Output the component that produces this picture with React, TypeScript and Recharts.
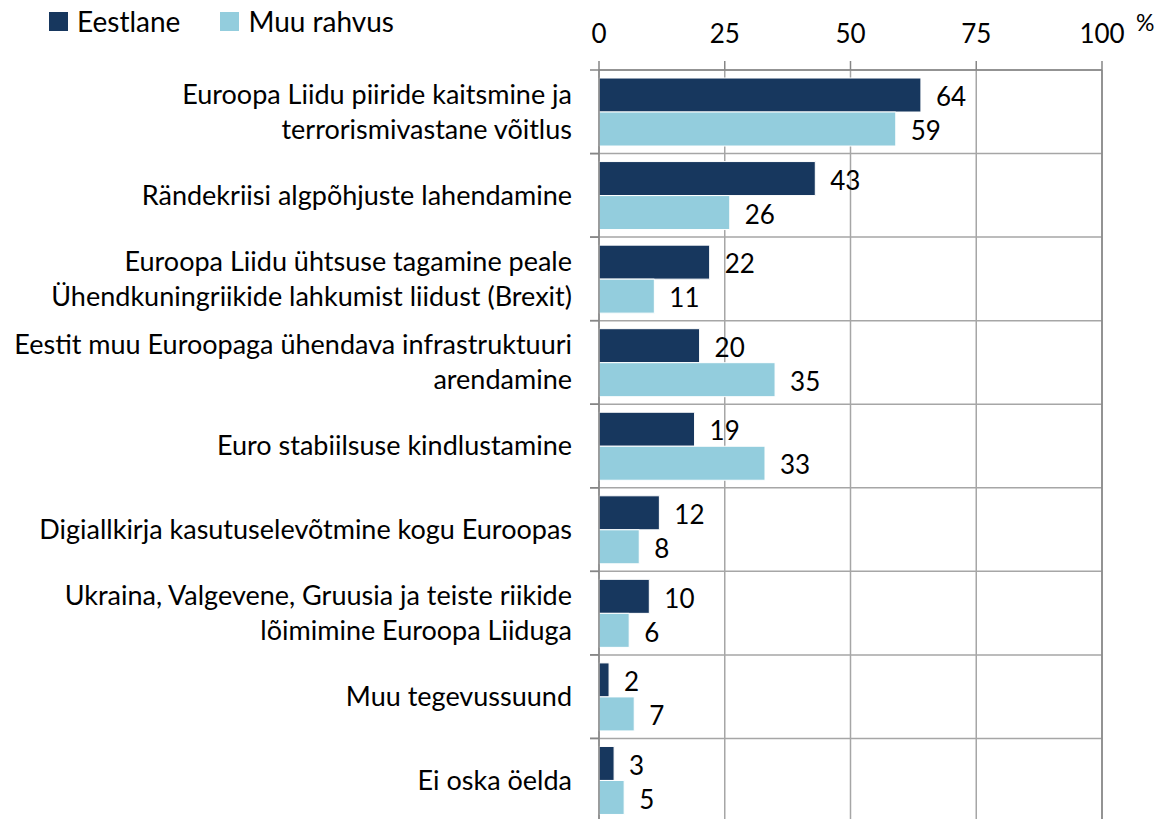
import React from "react";
import {
  BarChart,
  Bar,
  XAxis,
  YAxis,
  CartesianGrid,
  Legend,
  LabelList,
  Label,
  ReferenceLine
} from "recharts";

const categories = [
  "Euroopa Liidu piiride kaitsmine ja\nterrorismivastane võitlus",
  "Rändekriisi algpõhjuste lahendamine",
  "Euroopa Liidu ühtsuse tagamine peale\nÜhendkuningriikide lahkumist liidust (Brexit)",
  "Eestit muu Euroopaga ühendava infrastruktuuri\narendamine",
  "Euro stabiilsuse kindlustamine",
  "Digiallkirja kasutuselevõtmine kogu Euroopas",
  "Ukraina, Valgevene, Gruusia ja teiste riikide\nlõimimine Euroopa Liiduga",
  "Muu tegevussuund",
  "Ei oska öelda"
];

const eestlane = [64, 43, 22, 20, 19, 12, 10, 2, 3];
const muuRahvus = [59, 26, 11, 35, 33, 8, 6, 7, 5];
const xTicks = [0, 25, 50, 75, 100];
const seriesNames = ["Eestlane", "Muu rahvus"];
const colors = ["#17375E", "#93CDDD"];

const data = categories.map((name, i) => ({
  name,
  eestlane: eestlane[i],
  muu: muuRahvus[i]
}));

const FONT = "Lato, 'Liberation Sans', sans-serif";
const GRID = "#a6a6a6";
const AXIS = "#868686";

// category labels, right aligned, with tick marks on the band edges
const CategoryTick = (props: any) => {
  const { x, y, payload, band } = props;
  const lines = String(payload.value).split("\n");
  const lh = 35;
  const y0 = y - ((lines.length - 1) * lh) / 2;
  return (
    <g>
      <line x1={x} x2={x + 9} y1={y - band / 2} y2={y - band / 2} stroke={AXIS} strokeWidth={1.5} />
      <line x1={x} x2={x + 9} y1={y + band / 2} y2={y + band / 2} stroke={AXIS} strokeWidth={1.5} />
      <text textAnchor="end" fontSize={27} fill="#000" fontFamily={FONT}>
        {lines.map((l: string, i: number) => (
          <tspan key={i} x={x - 18} y={y0 + i * lh} dy="0.35em">
            {l}
          </tspan>
        ))}
      </text>
    </g>
  );
};

const PercentSign = (props: any) => {
  const vb = props.viewBox;
  return (
    <text x={vb.x + vb.width + 34} y={vb.y + 31} fontSize={23} fill="#000" fontFamily={FONT}>
      %
    </text>
  );
};

const renderLegend = (props: any) => {
  const { payload } = props;
  return (
    <div style={{ display: "flex", alignItems: "center", fontFamily: FONT }}>
      {payload.map((p: any, i: number) => (
        <div key={i} style={{ display: "flex", alignItems: "center", marginRight: 40 }}>
          <span style={{ width: 19, height: 19, background: p.color, display: "inline-block", marginRight: 9 }} />
          <span style={{ fontSize: 28, color: "#000", lineHeight: "34px" }}>{p.value}</span>
        </div>
      ))}
    </div>
  );
};

export default function App() {
  const W = 1163;
  const H = 830;
  const margin = { top: 0, right: 61, bottom: 8, left: 0 };
  const xAxisH = 70;
  const band = (H - margin.top - margin.bottom - xAxisH) / categories.length;

  return (
    <div style={{ position: "absolute", left: 0, top: 0, width: W, height: 819, overflow: "hidden", background: "#fff", fontFamily: FONT }}>
      <BarChart
        width={W}
        height={H}
        data={data}
        layout="vertical"
        margin={margin}
        barCategoryGap="9.6%"
        barGap={0}
      >
        <CartesianGrid
          stroke={GRID}
          strokeWidth={1.5}
          horizontalCoordinatesGenerator={({ offset }: any) =>
            Array.from({ length: categories.length + 1 }, (_, i) => offset.top + (i * offset.height) / categories.length)
          }
        />
        <XAxis
          type="number"
          orientation="top"
          domain={[0, 100]}
          ticks={xTicks}
          interval={0}
          height={xAxisH}
          tickSize={9}
          tickMargin={18}
          axisLine={{ stroke: AXIS, strokeWidth: 1.5 }}
          tickLine={{ stroke: AXIS, strokeWidth: 1.5 }}
          tick={{ fontSize: 26, fill: "#000", fontFamily: FONT }}
        >
          <Label content={<PercentSign />} />
        </XAxis>
        <YAxis
          type="category"
          dataKey="name"
          width={599}
          interval={0}
          tickSize={9}
          tickMargin={0}
          tickLine={false}
          axisLine={{ stroke: AXIS, strokeWidth: 1.5 }}
          tick={<CategoryTick band={band} />}
        />
        <ReferenceLine x={100} stroke={AXIS} strokeWidth={1.5} />
        <Legend
          layout="horizontal"
          verticalAlign="middle"
          align="center"
          wrapperStyle={{ top: 4, left: 49, width: "auto" }}
          content={renderLegend}
        />
        <Bar dataKey="eestlane" name={seriesNames[0]} fill={colors[0]} stroke="#fff" strokeWidth={1} isAnimationActive={false}>
          <LabelList dataKey="eestlane" position="right" offset={15} fill="#000" fontSize={26} fontFamily={FONT} dy={2} />
        </Bar>
        <Bar dataKey="muu" name={seriesNames[1]} fill={colors[1]} stroke="#fff" strokeWidth={1} isAnimationActive={false}>
          <LabelList dataKey="muu" position="right" offset={15} fill="#000" fontSize={26} fontFamily={FONT} dy={2} />
        </Bar>
      </BarChart>
    </div>
  );
}
